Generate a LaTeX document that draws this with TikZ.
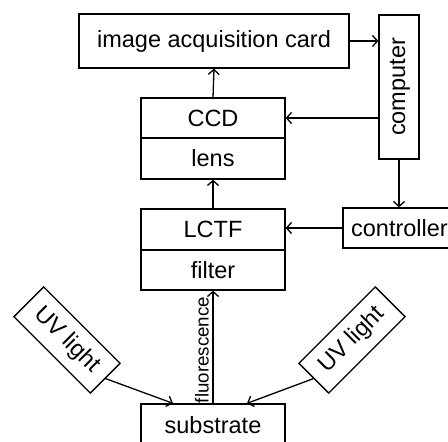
\documentclass[tikz,border=0pt]{standalone}
\usepackage{fontspec}
\setmainfont{Liberation Sans}
\usetikzlibrary{arrows.meta}
\begin{document}
\begin{tikzpicture}[x=1pt,y=1pt,
  box/.style={draw,line width=1.3pt,inner sep=0pt,minimum width=144pt,minimum height=41pt,font=\fontsize{23.5}{28}\selectfont},
  conn/.style={line width=1.3pt,-{Straight Barb[length=5pt,width=11pt,line width=1.3pt]}},
  lbl/.style={inner sep=0pt,font=\fontsize{18.7}{22}\selectfont}]
\useasboundingbox (0,0) rectangle (448,442);
\node[box,minimum width=270pt,minimum height=54pt] (iac) at (214,401) {image acquisition card};
\node[box,minimum width=40pt,minimum height=144pt] (comp) at (399,355) {};
\node[inner sep=0pt,rotate=90,font=\fontsize{23.5}{28}\selectfont] (comptxt) at (400,355) {computer};
\node[box,minimum height=40pt] (ccd) at (213,324) {CCD};
\node[box] (lens) at (213,283.5) {lens};
\node[box] (lctf) at (213,212.5) {LCTF};
\node[box,minimum height=40pt] (filt) at (213,172) {filter};
\node[box,minimum width=113pt,minimum height=40pt] (ctrl) at (399.5,214) {controller};
\node[box,minimum height=42pt] (sub) at (213,17) {substrate};
\node[box,minimum width=108pt,minimum height=42pt,rotate=-45] (uvl) at (67,102) {UV light};
\node[box,minimum width=108pt,minimum height=42pt,rotate=45] (uvr) at (352,102) {UV light};
\draw[conn] (iac.east) -- (iac.east -| comp.west);
\draw[conn] (ccd.north) -- (iac.south);
\draw[conn] (ccd.east -| comp.west) -- (ccd.east);
\draw[conn] (comp.south) -- (comp.south |- ctrl.north);
\draw[conn] (lctf.north) -- (lens.south);
\draw[conn] (ctrl.west) -- (ctrl.west -| lctf.east);
\draw[conn] (sub.north) -- (filt.south);
\node[lbl,rotate=90] (fl) at (202,92) {fluorescence};
\draw[conn] (uvl.east) -- ([xshift=-40pt]sub.north);
\draw[conn] (uvr.west) -- ([xshift=34pt]sub.north);
\end{tikzpicture}
\end{document}
